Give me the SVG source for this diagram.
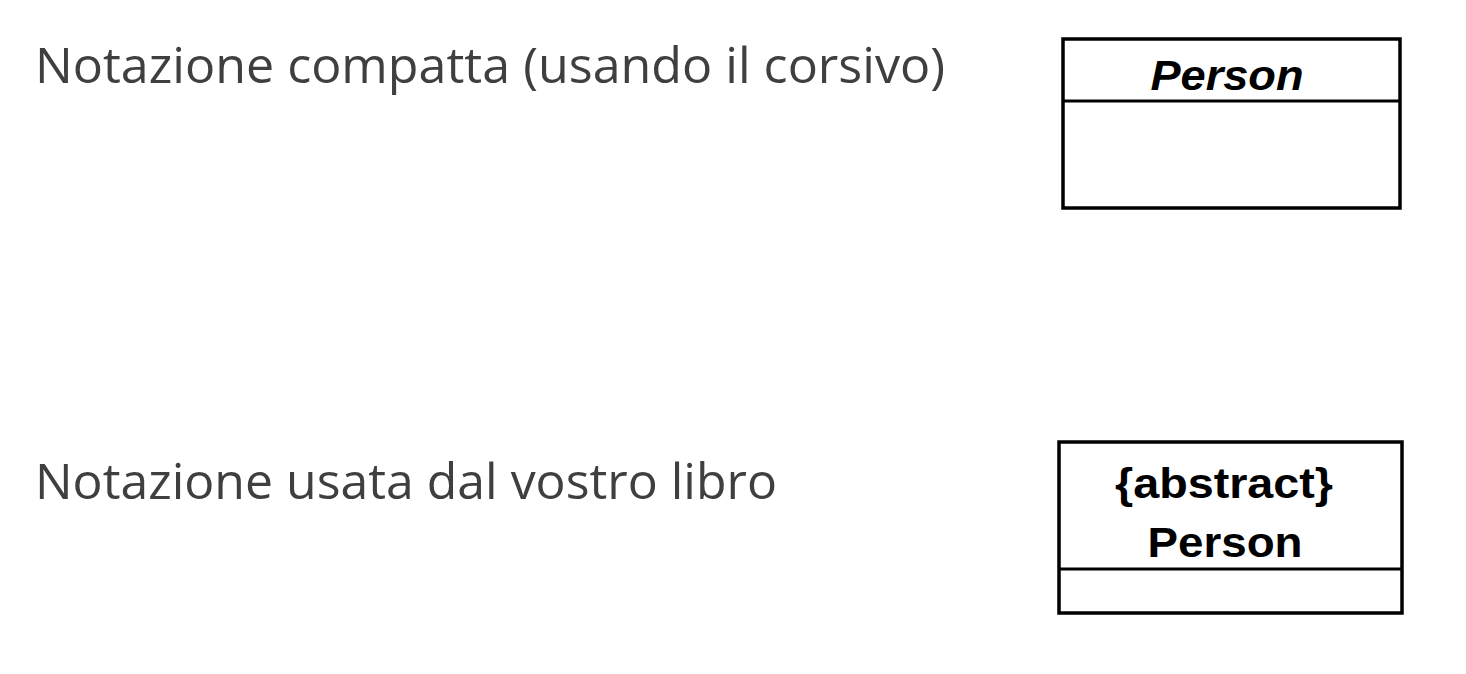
<svg xmlns="http://www.w3.org/2000/svg" width="1466" height="674" viewBox="0 0 1466 674">
<style>
.lbl{font-family:"Open Sans","Noto Sans",sans-serif;font-size:50px;fill:#3f3f3f}
.box{fill:#fff;stroke:#000;stroke-width:3.5}
.div{stroke:#000;stroke-width:3}
.cls{font-family:"Liberation Sans",Arial,sans-serif;font-weight:bold;font-size:43px;fill:#000;text-anchor:middle}
</style>
<rect width="1466" height="674" fill="#fff"/>
<text class="lbl" x="35" y="83" textLength="910" lengthAdjust="spacingAndGlyphs">Notazione compatta (usando il corsivo)</text>
<text class="lbl" x="35" y="499" textLength="742" lengthAdjust="spacingAndGlyphs">Notazione usata dal vostro libro</text>
<g id="person-italic">
<rect class="box" x="1063" y="39" width="337" height="169"/>
<line class="div" x1="1063" y1="101" x2="1400" y2="101"/>
<text class="cls" x="1227" y="90" font-style="italic" textLength="153" lengthAdjust="spacingAndGlyphs">Person</text>
</g>
<g id="person-abstract">
<rect class="box" x="1059" y="442" width="343" height="171"/>
<line class="div" x1="1059" y1="569" x2="1402" y2="569"/>
<text class="cls" x="1224" y="498" textLength="218" lengthAdjust="spacingAndGlyphs">{abstract}</text>
<text class="cls" x="1225" y="557" textLength="155" lengthAdjust="spacingAndGlyphs">Person</text>
</g>
<g id="connectors"/>
</svg>
